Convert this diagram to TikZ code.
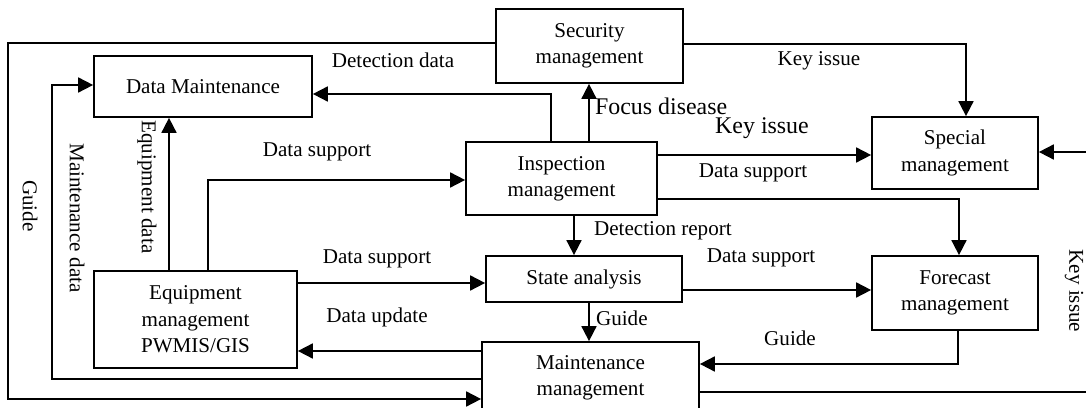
\documentclass[tikz,border=0pt]{standalone}
\usepackage{fontspec}
\setmainfont{Liberation Serif}
\usetikzlibrary{arrows.meta}

\begin{document}
\begin{tikzpicture}
  [
    x = 0.02cm, y = -0.02cm,
    font = \fontsize{12}{15}\selectfont,
    box/.style = {draw, line width=1pt, align=center, inner sep=2pt},
    arr/.style = {line width=1pt, -{Triangle[length=0.3cm, width=0.3cm]}},
    lbl/.style = {inner sep=1pt},
    big/.style = {font=\fontsize{13.6}{16}\selectfont}
  ]
  \useasboundingbox (0,0) rectangle (1086,408);

  % boxes
  \node[box, minimum width=4.36cm, minimum height=1.22cm] (datam) at (203,86.5) {Data Maintenance};
  \node[box, minimum width=3.74cm, minimum height=1.48cm] (sec)   at (589.5,46) {Security\\management};
  \node[box, minimum width=3.82cm, minimum height=1.46cm] (insp)  at (561.5,178.5) {Inspection\\management};
  \node[box, minimum width=3.32cm, minimum height=1.44cm] (spec)  at (955,153) {Special\\management};
  \node[box, minimum width=3.92cm, minimum height=0.92cm] (state) at (584,279) {State analysis};
  \node[box, minimum width=3.32cm, minimum height=1.48cm] (fore)  at (955,293) {Forecast\\management};
  \node[box, minimum width=4.06cm, minimum height=1.94cm] (equip) at (195.5,319.5) {Equipment\\management\\PWMIS/GIS};
  \node[box, minimum width=4.34cm, minimum height=1.44cm] (maint) at (590.5,378) {Maintenance\\management};

  % outer loops on the left
  \draw[arr] (sec.west |- 0,43) -| (8,399) -- (maint.west |- 0,399);
  \draw[arr] (maint.west |- 0,379) -| (52,85) -- (datam.west |- 0,85);
  \draw[arr] (equip.north -| 169,0) -- (datam.south -| 169,0);
  \draw[arr] (equip.north -| 208,0) |- (insp.west |- 0,180);
  \node[lbl, rotate=-90] (lguide) at (30,206) {Guide};
  \node[lbl, rotate=-90] (lmdata) at (77,218) {Maintenance data};
  \node[lbl, rotate=-90] (ledata) at (147,187) {Equipment data};
  \node[lbl] (ldsup1) at (317,152) {Data support};

  % around inspection
  \draw[arr] (insp.north -| 551,0) |- (datam.east |- 0,94);
  \node[lbl] (ldetect) at (393,60) {Detection data};
  \draw[arr] (insp.north -| 589,0) -- (sec.south -| 589,0);
  \node[lbl, big, anchor=west] (lfocus) at (593,106) {Focus disease};
  \draw[arr] (sec.east |- 0,44) -| (spec.north -| 966,0);
  \node[lbl] (lkey1) at (819,61) {Key issue};
  \draw[arr] (insp.east |- 0,155) -- (spec.west |- 0,155);
  \node[lbl, big] (lkey2) at (762,128) {Key issue};
  \node[lbl] (ldsup2) at (753,173) {Data support};
  \draw[arr] (insp.east |- 0,199) -| (fore.north -| 959,0);
  \draw[arr] (insp.south -| 574,0) -- (state.north -| 574,0);
  \node[lbl, anchor=west] (lreport) at (592,231) {Detection report};

  % state analysis and maintenance
  \draw[arr] (equip.east |- 0,283) -- (state.west |- 0,283);
  \node[lbl] (ldsup3) at (377,259) {Data support};
  \draw[arr] (state.east |- 0,290) -- (fore.west |- 0,290);
  \node[lbl] (ldsup4) at (761,258) {Data support};
  \draw[arr] (state.south -| 589,0) -- (maint.north -| 589,0);
  \node[lbl, anchor=west] (lguide2) at (594,318) {Guide};
  \draw[arr] (fore.south -| 958,0) |- (maint.east |- 0,364);
  \node[lbl] (lguide3) at (790,338) {Guide};
  \draw[arr] (maint.west |- 0,351) -- (equip.east |- 0,351);
  \node[lbl] (lupdate) at (377,317) {Data update};

  % right loop back to special management
  \draw[arr] (maint.east |- 0,392) -| (1096,152) -- (spec.east |- 0,152);
  \node[lbl, rotate=-90] (lkey3) at (1074,291) {Key issue};
\end{tikzpicture}
\end{document}
